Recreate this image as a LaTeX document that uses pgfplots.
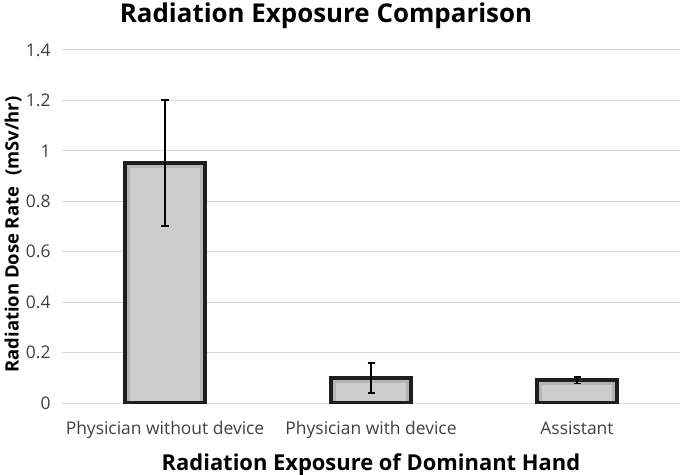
\documentclass[border=0pt]{standalone}
\usepackage{fontspec}
\setmainfont{Open Sans}
\usepackage{pgfplots}
\pgfplotsset{compat=1.18}
\definecolor{gridgray}{HTML}{D9D9D9}
\definecolor{barfill}{HTML}{CCCCCC}
\definecolor{barshade}{HTML}{B4B4B4}
\definecolor{bardraw}{HTML}{1E1E1E}
\definecolor{ticktext}{HTML}{404040}
\begin{document}
\begin{tikzpicture}
\useasboundingbox (-62bp,-72bp) rectangle (623bp,403bp);
\begin{axis}[
    scale only axis,
    width=618bp, height=353bp,
    ybar, bar width=80bp, bar shift=0pt,
    xmin=-0.5, xmax=2.5,
    ymin=0, ymax=1.4,
    ytick={0,0.2,0.4,0.6,0.8,1,1.2,1.4},
    xtick={0,1,2},
    xticklabels={Physician without device, Physician with device, Assistant},
    axis line style={draw=none},
    major tick length=0pt,
    ymajorgrids,
    grid style={draw=gridgray, line width=1bp},
    /pgf/number format/assume math mode=true,
    ticklabel style={font=\fontsize{17.5}{20}\selectfont, text=ticktext},
    yticklabel style={anchor=east, xshift=-8bp},
    xticklabel style={anchor=base, yshift=-31bp},
    title={\bfseries Radiation Exposure Comparison},
    title style={font=\fontsize{26}{30}\selectfont, anchor=base,
        at={(rel axis cs:0.5,1)}, yshift=22bp, xshift=-45bp},
    xlabel={\bfseries Radiation Exposure of Dominant Hand},
    xlabel style={font=\fontsize{22}{26}\selectfont, anchor=base,
        at={(rel axis cs:0.5,0)}, yshift=-67bp},
    ylabel={\bfseries Radiation Dose Rate\hspace{0.6em}(mSv/hr)},
    ylabel style={font=\fontsize{18.5}{22}\selectfont, anchor=center,
        at={(rel axis cs:0,0.5)}, yshift=49bp, xshift=-8bp},
    every error bar/.append style={line width=1.8bp},
]
% bar body
\addplot[fill=barfill, draw=none] coordinates {
    (0,0.952) (1,0.100) (2,0.090)
};
% inner shading band
\addplot[fill=none, draw=barshade, line width=3bp, bar width=73bp] coordinates {
    (0,0.938) (1,0.086) (2,0.076)
};
% outline with error bars
\addplot[fill=none, draw=bardraw, line width=4bp,
    error bars/.cd, y dir=both, y explicit,
    error bar style={line width=1.8bp, black},
    error mark options={rotate=90, mark size=3.5bp, line width=1.8bp, black}]
coordinates {
    (0,0.952) +- (0,0.249)
    (1,0.100) +- (0,0.060)
    (2,0.090) +- (0,0.013)
};
\end{axis}
\end{tikzpicture}
\end{document}
